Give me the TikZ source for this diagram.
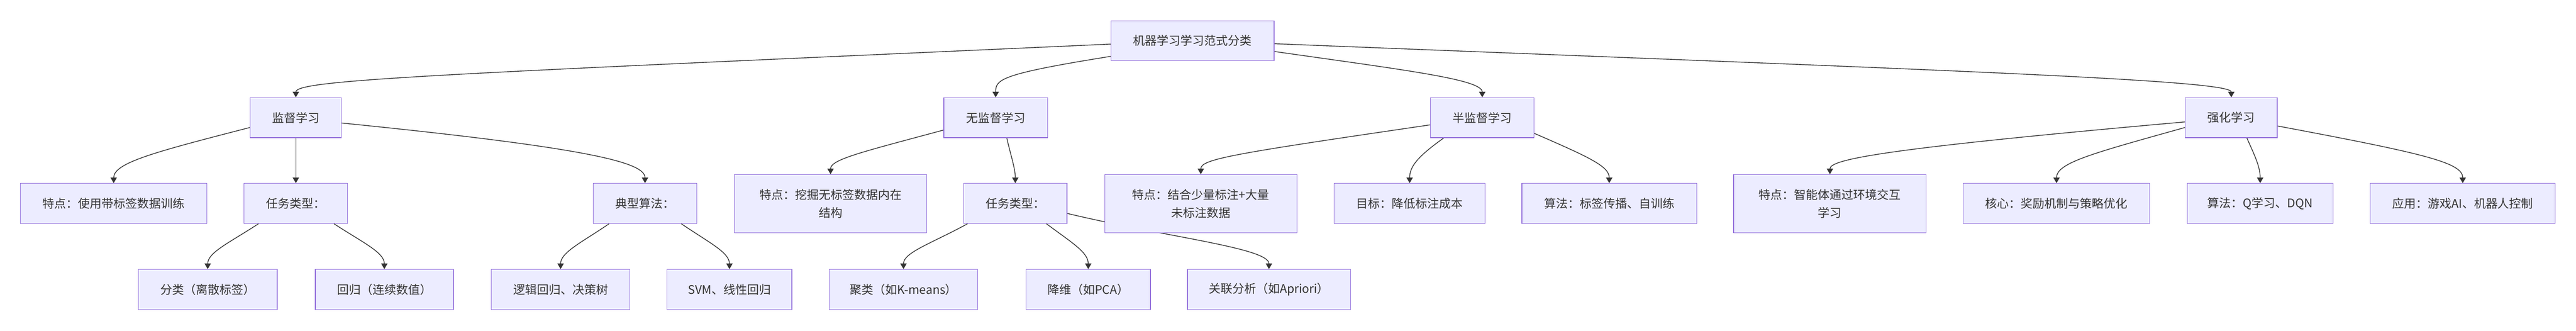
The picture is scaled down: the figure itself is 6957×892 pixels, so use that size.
\documentclass[tikz,border=0pt]{standalone}
\usepackage{fontspec}
\setmainfont{Noto Sans CJK SC}
\usetikzlibrary{arrows.meta,calc,backgrounds}
\definecolor{boxfill}{HTML}{ECECFF}
\definecolor{boxline}{HTML}{9370DB}
\definecolor{ink}{HTML}{333333}

\begin{document}
\begin{tikzpicture}[x=0.5pt, y=-0.5pt,
  main/.style = {draw=boxline, fill=boxfill, line width=0.85pt, text=ink, minimum height=54pt, inner sep=0pt, align=center, font=\fontsize{16pt}{24.5pt}\selectfont},
  tall/.style = {main, minimum height=78.5pt},
  link/.style = {draw=ink, line width=1pt, -{Triangle[length=7.5pt, width=8.5pt]}}]
\useasboundingbox (0,0) rectangle (6957,892);
\node[main, minimum width=220pt] (root) at (3221,110) {机器学习学习范式分类};
\node[main, minimum width=123pt] (sup) at (799,317.5) {监督学习};
\node[main, minimum width=140pt] (unsup) at (2689,317.5) {无监督学习};
\node[main, minimum width=140pt] (semi) at (4003,317.5) {半监督学习};
\node[main, minimum width=124pt] (rl) at (6026,317.5) {强化学习};
\node[main, minimum width=251.5pt] (supFeat) at (307,549) {特点：使用带标签数据训练};
\node[main, minimum width=140pt] (supTask) at (799,549) {任务类型：};
\node[main, minimum width=139.5pt] (supAlg) at (1742,549) {典型算法：};
\node[main, minimum width=187.5pt] (supCls) at (561,781) {分类（离散标签）};
\node[main, minimum width=186.5pt] (supReg) at (1038,781) {回归（连续数值）};
\node[main, minimum width=187.5pt] (supLog) at (1514,781) {逻辑回归、决策树};
\node[main, minimum width=168.5pt] (supSvm) at (1970,781) {SVM、线性回归};
\node[tall, minimum width=259.5pt] (unFeat) at (2243,549.5) {特点：挖掘无标签数据内在\\结构};
\node[main, minimum width=139.5pt] (unTask) at (2742,549) {任务类型：};
\node[main, minimum width=200.5pt] (unClu) at (2440,781) {聚类（如K-means）};
\node[main, minimum width=168pt] (unDim) at (2939,781) {降维（如PCA）};
\node[main, minimum width=220pt] (unAsc) at (3427,781) {关联分析（如Apriori）};
\node[tall, minimum width=259.5pt] (semiFeat) at (3243,549.5) {特点：结合少量标注+大量\\未标注数据};
\node[main, minimum width=203.5pt] (semiGoal) at (3807,549) {目标：降低标注成本};
\node[main, minimum width=236pt] (semiAlg) at (4346,549) {算法：标签传播、自训练};
\node[tall, minimum width=260pt] (rlFeat) at (4942,549.5) {特点：智能体通过环境交互\\学习};
\node[main, minimum width=252pt] (rlCore) at (5554,549) {核心：奖励机制与策略优化};
\node[main, minimum width=197pt] (rlAlg) at (6104,549) {算法：Q学习、DQN};
\node[main, minimum width=250pt] (rlApp) at (6651,549) {应用：游戏AI、机器人控制};
\begin{scope}[on background layer]
\fill[white] (0,0) rectangle (6957,892);
\draw[link] ($(root.west)+(0,9)$) .. controls +(-1801,81) and +(0,-48) .. (sup.north);
\draw[link] ($(root.west)+(0,42)$) .. controls +(-301,48) and +(0,-48) .. (unsup.north);
\draw[link] ($(root.east)+(0,29)$) .. controls +(359,51) and +(0,-48) .. (semi.north);
\draw[link] ($(root.east)+(0,8)$) .. controls +(1759,70) and +(0,-48) .. (rl.north);
\draw[link] ($(sup.west)+(0,26.5)$) .. controls +(-256,66) and +(0,-55) .. (supFeat.north);
\draw[link] (sup.south) -- (supTask.north);
\draw[link] ($(sup.east)+(0,14.5)$) .. controls +(678,68) and +(0,-55) .. (supAlg.north);
\draw[link] ($(supTask.south)+(-101,0)$) .. controls +(-78,51) and +(0,-45) .. (supCls.north);
\draw[link] ($(supTask.south)+(103,0)$) .. controls +(78,51) and +(0,-45) .. (supReg.north);
\draw[link] ($(supAlg.south)+(-97,0)$) .. controls +(-75,51) and +(0,-45) .. (supLog.north);
\draw[link] ($(supAlg.south)+(98,0)$) .. controls +(75,51) and +(0,-45) .. (supSvm.north);
\draw[link] ($(unsup.west)+(0,33.5)$) .. controls +(-219,59) and +(0,-40) .. (unFeat.north);
\draw[link] ($(unsup.south)+(30,0)$) .. controls +(10,45) and +(0,-40) .. (unTask.north);
\draw[link] ($(unTask.south)+(-129,0)$) .. controls +(-95,52) and +(0,-45) .. (unClu.north);
\draw[link] ($(unTask.south)+(84,0)$) .. controls +(70,52) and +(0,-45) .. (unDim.north);
\draw[link] ($(unTask.east)+(0,27)$) .. controls +(268,64) and +(0,-57) .. (unAsc.north);
\draw[link] ($(semi.west)+(0,19.5)$) .. controls +(-533,78) and +(0,-41) .. (semiFeat.north);
\draw[link] ($(semi.south)+(-104,0)$) .. controls +(-70,50) and +(0,-45) .. (semiGoal.north);
\draw[link] ($(semi.east)+(0,42.5)$) .. controls +(150,65) and +(0,-45) .. (semiAlg.north);
\draw[link] ($(rl.west)+(0,11.5)$) .. controls +(-802,71) and +(0,-41) .. (rlFeat.north);
\draw[link] ($(rl.west)+(0,26.5)$) .. controls +(-250,70) and +(0,-55) .. (rlCore.north);
\draw[link] ($(rl.south)+(42,0)$) .. controls +(20,45) and +(0,-45) .. (rlAlg.north);
\draw[link] ($(rl.east)+(0,22.5)$) .. controls +(400,75) and +(0,-55) .. (rlApp.north);
\end{scope}
\end{tikzpicture}
\end{document}
